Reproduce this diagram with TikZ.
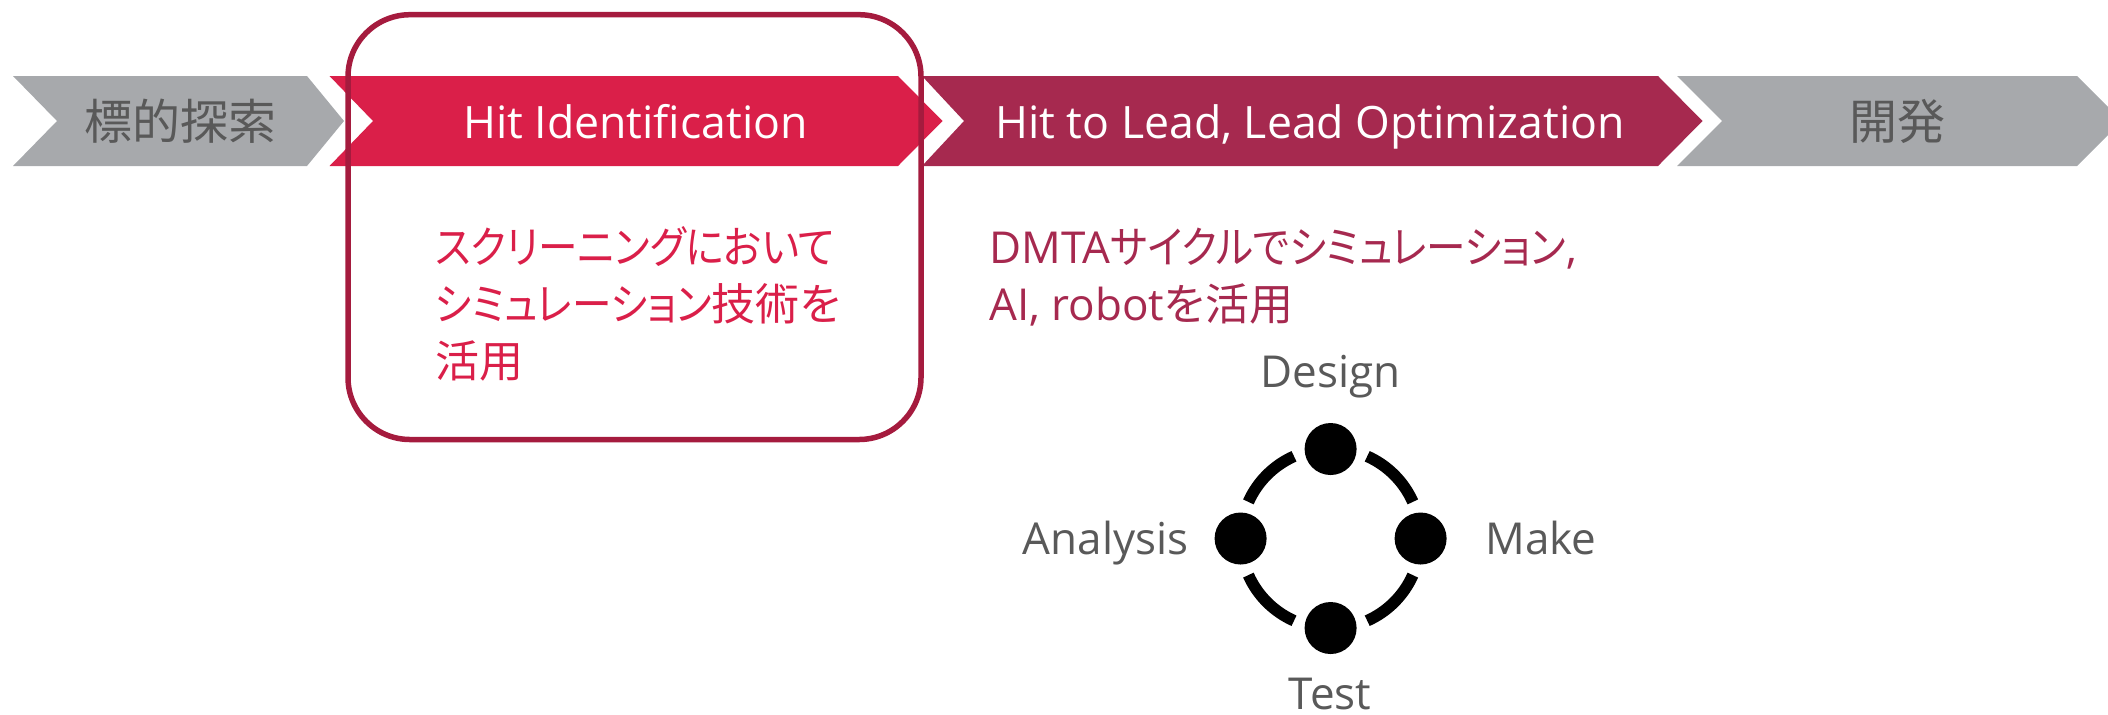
\documentclass[tikz,border=0pt]{standalone}
\usepackage{fontspec}
\newfontfamily\lat{Open Sans}
\newfontfamily\jp[RawFeature=+palt]{Noto Sans CJK JP}
\newfontfamily\jpkana[RawFeature=+palt, FakeStretch=0.9]{Noto Sans CJK JP}
\definecolor{chgray}{HTML}{A7A9AC}
\definecolor{chred}{HTML}{DA1F49}
\definecolor{chdark}{HTML}{A6294F}
\definecolor{frame}{HTML}{A51B3E}
\definecolor{txtgray}{HTML}{595959}
\tikzset{
  chevron/.style={draw=none},
  stagelat/.style={inner sep=0, anchor=base, font=\lat\fontsize{22.3}{26}\selectfont},
  stagejp/.style={inner sep=0, anchor=base, text=txtgray, font=\jp\fontsize{24}{28}\selectfont},
  note/.style={inner sep=0, anchor=base west, font=\fontsize{22}{26}\selectfont},
  dot/.style={circle, fill=black, inner sep=0, minimum size=26pt},
  cyclab/.style={inner sep=0, text=txtgray, font=\lat\fontsize{22}{26}\selectfont},
  ring/.style={line width=5.8pt, black}
}
\begin{document}
\begin{tikzpicture}[x=0.5pt, y=-0.5pt]
\useasboundingbox (0,0) rectangle (2108,714);
\begin{scope}
\clip (0,0) rectangle (2108,714);
% process chevrons
\fill[chevron, chgray] (13,76) -- (307,76) -- (344,121) -- (307,166) -- (13,166) -- (57,121) -- cycle;
\fill[chevron, chred] (329.5,76) -- (898,76) -- (942.5,121) -- (898,166) -- (329.5,166) -- (373,121) -- cycle;
\fill[chevron, chdark] (922,76) -- (1658,76) -- (1702.5,121) -- (1658,166) -- (922,166) -- (964,121) -- cycle;
\fill[chevron, chgray] (1677,76) -- (2077,76) -- (2122,121) -- (2077,166) -- (1677,166) -- (1722,121) -- cycle;
\end{scope}

% stage titles
\node[stagejp] (s1) at (180,139) {標的探索};
\node[stagelat, text=white] (s2) at (635.5,138) {Hit Identification};
\node[stagelat, text=white] (s3) at (1310,138) {Hit to Lead, Lead Optimization};
\node[stagejp] (s4) at (1897,139) {開発};

% highlight frame
\draw[frame, line width=2.75pt, rounded corners=31pt] (348,14.7) rectangle (921,439.5);

% descriptions
\node[note, text=chred] (h1) at (435,263) {\jpkana スクリーニングにおいて};
\node[note, text=chred] (h2) at (435,320) {{\jpkana シミュレーション}{\jp 技術を}};
\node[note, text=chred] (h3) at (435,377) {\jp 活用};
\node[note, text=chdark] (l1) at (989,263) {{\lat DMTA}{\jpkana サイクルでシミュレーション}{\lat ,}};
\node[note, text=chdark] (l2) at (989,320) {{\lat AI, robot}{\jp を活用}};

% DMTA cycle
\coordinate (c) at (1330.6,538.5);
\node[dot] (D) at (1330.6,449) {};
\node[dot] (M) at (1420.6,538.5) {};
\node[dot] (T) at (1330.6,628) {};
\node[dot] (A) at (1240.6,538.5) {};
\foreach \a in {24,114,204,294}
  \draw[ring] ([shift={(\a:90)}]c) arc[start angle=\a, end angle=\a+42, radius=90];

\node[cyclab, anchor=base] (dl) at (1330.6,387) {Design};
\node[cyclab, anchor=base west] (ml) at (1485,554) {Make};
\node[cyclab, anchor=base] (tl) at (1330,709) {Test};
\node[cyclab, anchor=base east] (al) at (1189,554) {Analysis};
\end{tikzpicture}
\end{document}
